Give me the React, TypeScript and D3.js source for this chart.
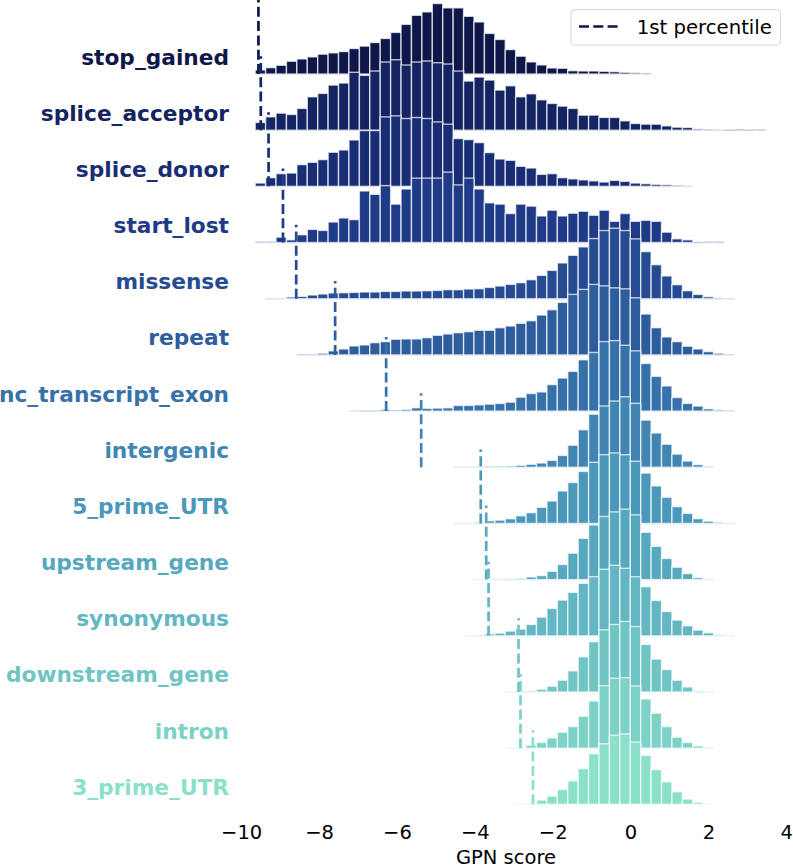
import React from 'react';
import * as d3 from 'd3';

// variant classes, top to bottom
const categories = [
  'stop_gained', 'splice_acceptor', 'splice_donor', 'start_lost', 'missense', 'repeat',
  'nc_transcript_exon', 'intergenic', '5_prime_UTR', 'upstream_gene', 'synonymous',
  'downstream_gene', 'intron', '3_prime_UTR',
];

// shared histogram grid (GPN score)
const firstEdge = -9.386;
const binWidth = 0.2676;
// index of first bin of each row on the shared grid
const startBin = [-1, -1, -1, -1, 0, 3, 8, 18, 18, 20, 19, 23, 23, 24];

// bar heights (relative counts)
const stopGained = [4, 6.3, 8.7, 12.7, 15, 17, 19.7, 21, 22.3, 25.3, 27.7, 31.3, 35.3, 41.3, 49.3, 58.3, 61.7, 70, 65.7, 65.7, 57.3, 51.7, 40.3, 34.3, 24.3, 17.7, 12, 9, 6, 5.7, 3.3, 3, 3, 2.7, 2.3, 1.7, 1.3, 0.7];
const spliceAcceptor = [7.7, 13.3, 17, 15.7, 21.7, 33.3, 36.7, 45, 47, 57.7, 54.7, 59, 68, 70.3, 65, 68, 69, 67.3, 66, 59, 49, 53, 50, 40, 44.3, 33.3, 36.3, 30.3, 26.7, 24, 21.7, 15, 15, 12.7, 12.7, 9.3, 6.7, 6, 6, 4.3, 3, 2.7, 1.3, 0.7, 0.3, 0, 1, 0, 0.7];
const spliceDonor = [3.3, 8.7, 12.7, 13.3, 21.7, 24, 26.7, 34, 36.3, 46.3, 55.7, 55.7, 69.3, 70.3, 67.7, 68.7, 67.7, 64.3, 62, 47.7, 46.7, 43.7, 33.7, 27.3, 26, 20, 18.3, 12, 12.7, 8.7, 7.5, 6.5, 5.5, 4.3, 6, 5, 3.3, 2.7, 2, 1.7, 1, 0.3];
const startLost = [1, 1, 5.3, 2.7, 7.7, 13, 12, 20.3, 24.3, 22.7, 51, 47.7, 56.3, 38, 53, 63.7, 63.7, 63.7, 69.7, 57, 63.7, 53, 39.3, 38, 28.7, 38, 36, 26.3, 32, 26.3, 29, 31, 27, 32, 21, 28.7, 21, 22, 21, 10.3, 3.7, 2.7, 0, 1, 1];
const missense = [0.3, 0.3, 1.7, 2.3, 3.7, 4.7, 5.7, 6, 6.3, 6.7, 6.7, 7.3, 7.3, 7.7, 7.7, 8, 8.3, 9, 9, 9.7, 10, 11.3, 12.7, 14.3, 16, 19, 23.3, 28.3, 35.7, 43.3, 51.7, 60, 68, 70.3, 68, 59.7, 47, 34, 22.7, 14, 8, 4.3, 2, 0.7, 0.3];
const repeat = [0.7, 0.7, 1.7, 4, 6, 9, 10, 12.3, 13.3, 15.7, 16, 16, 17.3, 19.7, 21, 22.3, 23.3, 24.7, 24.7, 27.3, 29, 31.7, 34.3, 40, 45.3, 52.7, 60.7, 65.7, 70.7, 69.3, 67.3, 66.3, 57.3, 41, 27.3, 18, 13.3, 8.7, 6, 3.3, 1.7, 0.7];
const ncTranscriptExon = [0.2, 0, 0, 1.7, 1, 1.7, 3.3, 2.7, 3, 3.3, 5.7, 5.7, 6.3, 7, 7.7, 9, 14, 17.7, 19.3, 26.7, 33.3, 40, 51.7, 59, 70, 71, 66.3, 60.7, 48, 35, 25.3, 13.7, 7.7, 5, 2.3, 1.3, 0.7];
const intergenic = [0.3, 0.3, 0.7, 1, 1, 1.3, 2, 3, 4.3, 7, 12, 22.3, 38, 53.7, 62, 67, 71.3, 64.7, 47.7, 34.7, 23.3, 13.3, 6.3, 2.7, 0.7];
const fivePrimeUTR = [0.2, 0.2, 1, 2.7, 3.3, 4.7, 7.7, 10.7, 16, 22.3, 32.3, 40.7, 51.7, 60.7, 68.3, 70, 68.3, 61.7, 50, 37.3, 26, 16.7, 10, 4.7, 2.3, 1.3, 0.3];
const upstreamGene = [0.2, 0.3, 0.3, 0.7, 1.3, 2.7, 4, 8.3, 15, 26.3, 41, 54.3, 62.7, 67.3, 70, 64.3, 47, 33, 21, 12.3, 6, 2, 0.3];
const synonymous = [0.2, 0.7, 2, 2.7, 4.7, 6.7, 11.3, 18.7, 27.3, 35.7, 43.4, 52.4, 59, 66.4, 70.4, 67.4, 59, 49, 35.3, 24.3, 15.7, 10, 5.7, 3, 1, 0.2];
const downstreamGene = [0.2, 1, 1, 2.7, 5.7, 11.7, 21, 35, 50, 61.7, 67, 70, 65, 47.3, 32.7, 22.3, 11.7, 5, 1, 0.2];
const intron = [0.2, 0.3, 3, 5.7, 10.3, 16, 21.7, 32, 47.3, 62.6, 70, 70.6, 62.3, 49.3, 35, 21.7, 11, 5.7, 2.3, 0.7];
const threePrimeUTR = [0.2, 1, 4.3, 8.3, 15, 23.7, 36, 51, 61, 69.7, 71, 62.7, 49.3, 35, 22.7, 12.7, 5.3, 2, 0.3];

const counts = [
  stopGained, spliceAcceptor, spliceDonor, startLost, missense, repeat, ncTranscriptExon,
  intergenic, fivePrimeUTR, upstreamGene, synonymous, downstreamGene, intron, threePrimeUTR,
];

// 1st percentile of GPN score per class
const percentile1 = [-9.57, -9.51, -9.31, -8.94, -8.6, -7.6, -6.29, -5.39, -3.86, -3.72, -3.66, -2.89, -2.84, -2.52];

const xTicks = [-10, -8, -6, -4, -2, 0, 2, 4];

const colors = [
  '#0e1748', '#142362', '#192d76', '#1f3b87', '#264b92', '#2e5d9e', '#3771a9', '#4186b3',
  '#4b98ba', '#56a8bf', '#62b7c2', '#6fc5c4', '#7cd2c6', '#8ae0c9',
];

const W = 793;
const H = 866;
const font = 'DejaVu Sans, sans-serif';

const App = () => {
  const x = d3.scaleLinear().domain([-10, 4]).range([241.7, 786.8]);
  const rowStep = 56.18;
  const rowHeight = 74;
  const top0 = 74;
  const fmt = (v: number) => (v < 0 ? '\u2212' + Math.abs(v) : String(v));

  return (
    <svg width={W} height={H} style={{ display: 'block' }}>
      <style>{'body{margin:0}'}</style>
      {categories.map((name, i) => {
        const base = top0 + i * rowStep;
        const vals = counts[i];
        const y = d3.scaleLinear()
          .domain([0, (d3.max(vals) as number) * 1.05])
          .range([base, base - rowHeight]);
        const edge = (j: number) => x(firstEdge + (startBin[i] + j) * binWidth);
        return (
          <g key={name}>
            <line x1={edge(0)} x2={edge(vals.length)} y1={base} y2={base}
              stroke={colors[i]} strokeOpacity={0.25} strokeWidth={1.5} />
            {vals.map((v, j) => (
              <rect key={j} x={edge(j)} width={edge(j + 1) - edge(j)}
                y={y(v)} height={base - y(v)}
                fill={colors[i]} stroke="#fff" strokeOpacity={0.7} strokeWidth={1.4} />
            ))}
            <line x1={x(percentile1[i])} x2={x(percentile1[i])} y1={base} y2={base - rowHeight}
              stroke={colors[i]} strokeWidth={2.7} strokeDasharray="10,4.3" />
            <text x={229} y={base - 9.5} textAnchor="end" fontFamily={font}
              fontWeight="bold" fontSize={21.7} fill={colors[i]}>{name}</text>
          </g>
        );
      })}
      {xTicks.map(t => (
        <text key={t} x={x(t)} y={838.5} textAnchor="middle" fontFamily={font}
          fontSize={19.5} fill="#000">{fmt(t)}</text>
      ))}
      <text x={506} y={863.5} textAnchor="middle" fontFamily={font} fontSize={19.5} fill="#000">GPN score</text>
      <g>
        <rect x={571} y={9.5} width={209.5} height={35.5} rx={4} fill="#fff" fillOpacity={0.8}
          stroke="#d5d5d5" strokeWidth={1} />
        <line x1={579} x2={619} y1={26.5} y2={26.5} stroke={colors[0]} strokeWidth={2.7}
          strokeDasharray="10,4.3" />
        <text x={636.7} y={33.5} fontFamily={font} fontSize={19.7} fill="#000">1st percentile</text>
      </g>
    </svg>
  );
};

export default App;
